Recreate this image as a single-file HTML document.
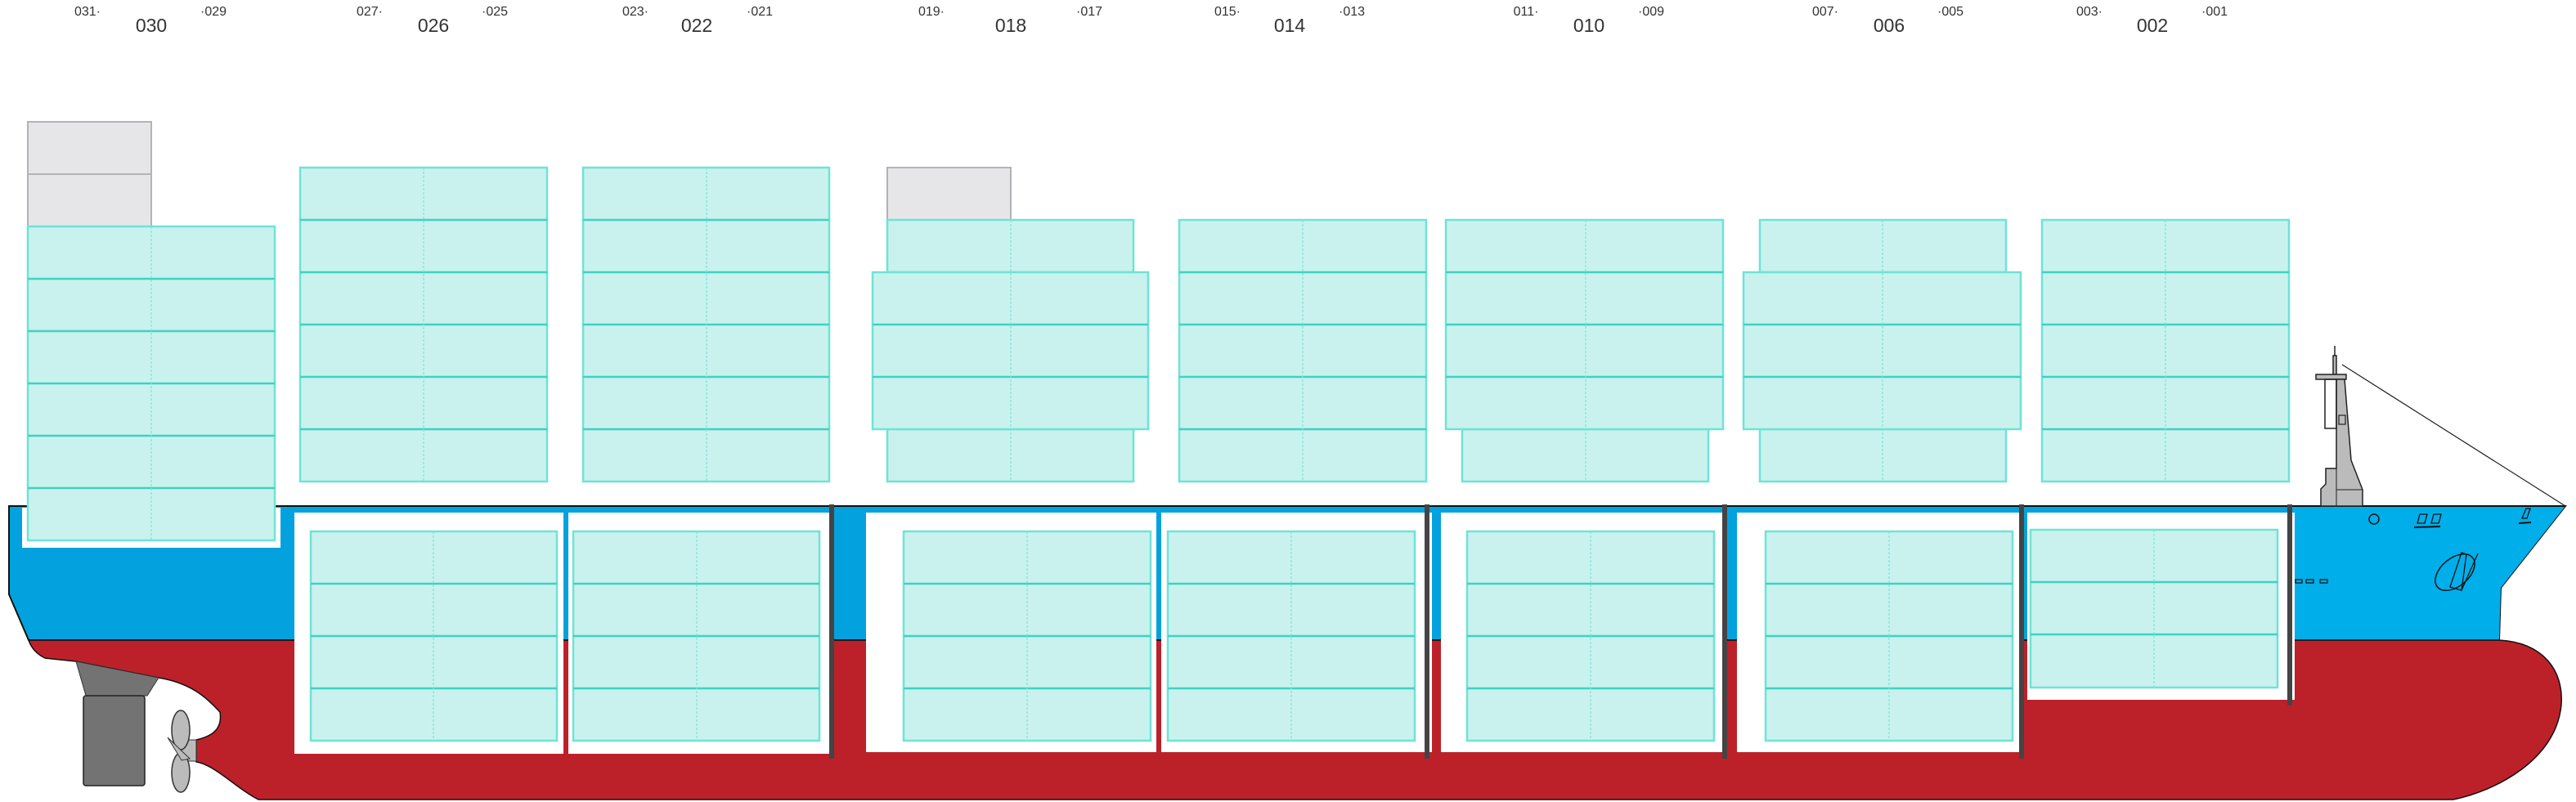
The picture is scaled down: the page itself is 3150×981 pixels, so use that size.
<!DOCTYPE html>
<html><head><meta charset="utf-8"><style>
html,body{margin:0;padding:0;background:#fff;}
svg{display:block;}
text{font-family:"Liberation Sans",sans-serif;fill:#333;}
.c{fill:#c9f2ee;stroke:#6fe3d6;stroke-width:2.5;}
.r{stroke:#3fd2c2;stroke-width:2.5;}
.m{stroke:#7fe3d8;stroke-width:1.2;stroke-dasharray:3 2;}
.g{fill:#e6e6e8;stroke:#b3b3b5;stroke-width:2;}
.w{fill:#fff;}
.b{fill:#444;}
</style></head><body>
<svg width="3150" height="981" viewBox="0 0 3150 981" xmlns="http://www.w3.org/2000/svg">
<!-- labels -->
<g font-size="16" text-anchor="middle">
<text x="107" y="19">031·</text><text x="261" y="19">·029</text>
<text x="452" y="19">027·</text><text x="605" y="19">·025</text>
<text x="777" y="19">023·</text><text x="929" y="19">·021</text>
<text x="1139" y="19">019·</text><text x="1332" y="19">·017</text>
<text x="1501" y="19">015·</text><text x="1653" y="19">·013</text>
<text x="1866" y="19">011·</text><text x="2019" y="19">·009</text>
<text x="2232" y="19">007·</text><text x="2385" y="19">·005</text>
<text x="2555" y="19">003·</text><text x="2708" y="19">·001</text>
</g>
<g font-size="23" text-anchor="middle">
<text x="185" y="39">030</text><text x="530" y="39">026</text><text x="852" y="39">022</text>
<text x="1236" y="39">018</text><text x="1577" y="39">014</text><text x="1943" y="39">010</text>
<text x="2310" y="39">006</text><text x="2632" y="39">002</text>
</g>

<!-- hull -->
<path d="M11,619 L3137,619 L3058,719 L3056,783 L35,783 L11,727 Z" fill="#03a2de" stroke="#111" stroke-width="2"/>
<path d="M2803,619 L3137,619 L3058,719 L3056,783 L2803,783 Z" fill="#00aeea"/>
<line x1="2803" y1="619" x2="3137" y2="619" stroke="#111" stroke-width="2"/>
<path d="M35,783 L3056,783 C3110,786 3135,820 3132,862 C3126,930 3050,968 3000,978 L316,978 C290,965 262,935 240,932 L240,905 C262,900 272,890 269,871 C250,850 230,835 194,829 L93,809 L55,805 C45,800 38,792 35,783 Z" fill="#bc212a" stroke="#111" stroke-width="1.5"/>

<!-- aft notch & openings -->
<rect class="w" x="27" y="621" width="316" height="49"/>
<rect class="w" x="360" y="627" width="329" height="295"/>
<rect class="w" x="695" y="627" width="320" height="295"/>
<rect class="w" x="1059" y="627" width="355" height="293"/>
<rect class="w" x="1420" y="627" width="331" height="293"/>
<rect class="w" x="1762" y="627" width="347" height="293"/>
<rect class="w" x="2124" y="627" width="348" height="293"/>
<rect class="w" x="2479" y="627" width="327" height="229"/>
<rect class="b" x="1014" y="617" width="6" height="311"/>
<rect class="b" x="1742" y="617" width="6" height="311"/>
<rect class="b" x="2106" y="617" width="6" height="311"/>
<rect class="b" x="2469" y="617" width="6" height="311"/>
<rect class="b" x="2797" y="617" width="6" height="246"/>

<!-- bay 030 -->
<rect class="g" x="34" y="149" width="151" height="64"/><rect class="g" x="34" y="213" width="151" height="64"/>
<rect class="c" x="34" y="277" width="302" height="384"/>
<g class="r"><line x1="34" x2="336" y1="341" y2="341"/><line x1="34" x2="336" y1="405" y2="405"/><line x1="34" x2="336" y1="469" y2="469"/><line x1="34" x2="336" y1="533" y2="533"/><line x1="34" x2="336" y1="597" y2="597"/></g>
<line class="m" x1="185" x2="185" y1="277" y2="661"/>
<!-- bay 026 -->
<rect class="c" x="367" y="205" width="302" height="384"/>
<g class="r"><line x1="367" x2="669" y1="269" y2="269"/><line x1="367" x2="669" y1="333" y2="333"/><line x1="367" x2="669" y1="397" y2="397"/><line x1="367" x2="669" y1="461" y2="461"/><line x1="367" x2="669" y1="525" y2="525"/></g>
<line class="m" x1="518" x2="518" y1="205" y2="589"/>
<!-- bay 022 -->
<rect class="c" x="713" y="205" width="301" height="384"/>
<g class="r"><line x1="713" x2="1014" y1="269" y2="269"/><line x1="713" x2="1014" y1="333" y2="333"/><line x1="713" x2="1014" y1="397" y2="397"/><line x1="713" x2="1014" y1="461" y2="461"/><line x1="713" x2="1014" y1="525" y2="525"/></g>
<line class="m" x1="864" x2="864" y1="205" y2="589"/>
<!-- bay 018 -->
<rect class="g" x="1085" y="205" width="151" height="64"/>
<rect class="c" x="1085" y="269" width="301" height="64"/>
<rect class="c" x="1085" y="525" width="301" height="64"/>
<rect class="c" x="1067" y="333" width="337" height="192"/>
<g class="r"><line x1="1067" x2="1404" y1="397" y2="397"/><line x1="1067" x2="1404" y1="461" y2="461"/></g>
<line class="m" x1="1236" x2="1236" y1="269" y2="589"/>
<!-- bay 014 -->
<rect class="c" x="1442" y="269" width="302" height="320"/>
<g class="r"><line x1="1442" x2="1744" y1="333" y2="333"/><line x1="1442" x2="1744" y1="397" y2="397"/><line x1="1442" x2="1744" y1="461" y2="461"/><line x1="1442" x2="1744" y1="525" y2="525"/></g>
<line class="m" x1="1593" x2="1593" y1="269" y2="589"/>
<!-- bay 010 -->
<rect class="c" x="1788" y="525" width="301" height="64"/>
<rect class="c" x="1768" y="269" width="339" height="256"/>
<g class="r"><line x1="1768" x2="2107" y1="333" y2="333"/><line x1="1768" x2="2107" y1="397" y2="397"/><line x1="1768" x2="2107" y1="461" y2="461"/></g>
<line class="m" x1="1939" x2="1939" y1="269" y2="589"/>
<!-- bay 006 -->
<rect class="c" x="2152" y="269" width="301" height="64"/>
<rect class="c" x="2152" y="525" width="301" height="64"/>
<rect class="c" x="2132" y="333" width="339" height="192"/>
<g class="r"><line x1="2132" x2="2471" y1="397" y2="397"/><line x1="2132" x2="2471" y1="461" y2="461"/></g>
<line class="m" x1="2302" x2="2302" y1="269" y2="589"/>
<!-- bay 002 -->
<rect class="c" x="2497" y="269" width="302" height="320"/>
<g class="r"><line x1="2497" x2="2799" y1="333" y2="333"/><line x1="2497" x2="2799" y1="397" y2="397"/><line x1="2497" x2="2799" y1="461" y2="461"/><line x1="2497" x2="2799" y1="525" y2="525"/></g>
<line class="m" x1="2648" x2="2648" y1="269" y2="589"/>

<!-- hold stacks -->
<g>
<rect class="c" x="380" y="650" width="301" height="256"/>
<rect class="c" x="701" y="650" width="301" height="256"/>
<rect class="c" x="1105" y="650" width="302" height="256"/>
<rect class="c" x="1428" y="650" width="302" height="256"/>
<rect class="c" x="1794" y="650" width="302" height="256"/>
<rect class="c" x="2159" y="650" width="302" height="256"/>
<rect class="c" x="2483" y="648" width="302" height="193"/>
</g>
<g class="r">
<line x1="380" x2="681" y1="714" y2="714"/><line x1="380" x2="681" y1="778" y2="778"/><line x1="380" x2="681" y1="842" y2="842"/>
<line x1="701" x2="1002" y1="714" y2="714"/><line x1="701" x2="1002" y1="778" y2="778"/><line x1="701" x2="1002" y1="842" y2="842"/>
<line x1="1105" x2="1407" y1="714" y2="714"/><line x1="1105" x2="1407" y1="778" y2="778"/><line x1="1105" x2="1407" y1="842" y2="842"/>
<line x1="1428" x2="1730" y1="714" y2="714"/><line x1="1428" x2="1730" y1="778" y2="778"/><line x1="1428" x2="1730" y1="842" y2="842"/>
<line x1="1794" x2="2096" y1="714" y2="714"/><line x1="1794" x2="2096" y1="778" y2="778"/><line x1="1794" x2="2096" y1="842" y2="842"/>
<line x1="2159" x2="2461" y1="714" y2="714"/><line x1="2159" x2="2461" y1="778" y2="778"/><line x1="2159" x2="2461" y1="842" y2="842"/>
<line x1="2483" x2="2785" y1="712" y2="712"/><line x1="2483" x2="2785" y1="776" y2="776"/>
</g>
<g class="m">
<line x1="530" x2="530" y1="650" y2="906"/><line x1="852" x2="852" y1="650" y2="906"/>
<line x1="1256" x2="1256" y1="650" y2="906"/><line x1="1579" x2="1579" y1="650" y2="906"/>
<line x1="1945" x2="1945" y1="650" y2="906"/><line x1="2310" x2="2310" y1="650" y2="906"/>
<line x1="2634" x2="2634" y1="648" y2="841"/>
</g>

<!-- rudder & propeller -->
<path d="M93,809 L194,829 L180,851 L105,851 Z" fill="#737373" stroke="#333" stroke-width="1"/>
<rect x="102" y="851" width="75" height="110" rx="3" fill="#737373" stroke="#222" stroke-width="1.5"/>
<rect x="222" y="905" width="18" height="26" fill="#bbb" stroke="#333"/>
<ellipse cx="221" cy="893" rx="11" ry="24" fill="#bbb" stroke="#333" stroke-width="1.5"/>
<ellipse cx="221" cy="945" rx="11" ry="24" fill="#bbb" stroke="#333" stroke-width="1.5"/>
<path d="M205,902 L232,928 L222,930 Z" fill="#bbb" stroke="#333"/>

<!-- forecastle mast -->
<line x1="2855" y1="423" x2="2855" y2="436" stroke="#222" stroke-width="1.5"/>
<rect x="2853" y="435" width="4" height="23" fill="#bbb" stroke="#222" stroke-width="1.5"/>
<rect x="2832" y="458" width="37" height="6" fill="#bbb" stroke="#222" stroke-width="1.5"/>
<path d="M2857,464 L2867,464 L2875,563 L2889,599 L2889,619 L2838,619 L2838,598 L2844,592 L2844,573 L2857,573 Z" fill="#bbb" stroke="#222" stroke-width="1.5"/>
<rect x="2843" y="464" width="14" height="60" fill="none" stroke="#222" stroke-width="1.5"/>
<line x1="2857" y1="464" x2="2857" y2="619" stroke="#222" stroke-width="1"/>
<line x1="2857" y1="599" x2="2889" y2="599" stroke="#222" stroke-width="1"/>
<rect x="2860" y="508" width="8" height="11" fill="none" stroke="#222" stroke-width="1.2"/>
<line x1="2864" y1="446" x2="3137" y2="619" stroke="#222" stroke-width="1.2"/>

<!-- bow details -->
<circle cx="2903" cy="635" r="6" fill="none" stroke="#111" stroke-width="1.5"/>
<path d="M2956,640 l3,-11 h9 l-3,11 z M2973,640 l3,-11 h9 l-3,11 z" fill="none" stroke="#111" stroke-width="1.3"/>
<line x1="2952" y1="645" x2="2984" y2="644" stroke="#111" stroke-width="2"/>
<path d="M3084,634 l5,-12 h5 l-4,12 z" fill="none" stroke="#111" stroke-width="1.3"/>
<line x1="3080" y1="640" x2="3095" y2="639" stroke="#111" stroke-width="2"/>
<ellipse cx="3002" cy="700" rx="28" ry="17" transform="rotate(-40 3002 700)" fill="none" stroke="#111" stroke-width="1.5"/>
<path d="M2996,718 l14,-42 l6,2 l-6,44 z M3010,722 l20,-45" fill="none" stroke="#111" stroke-width="1.3"/>
<path d="M2807,709 h8 v4 h-8 z M2820,709 h9 v4 h-9 z M2837,709 h9 v4 h-9 z" fill="none" stroke="#111" stroke-width="1.2"/>
</svg>
</body></html>
